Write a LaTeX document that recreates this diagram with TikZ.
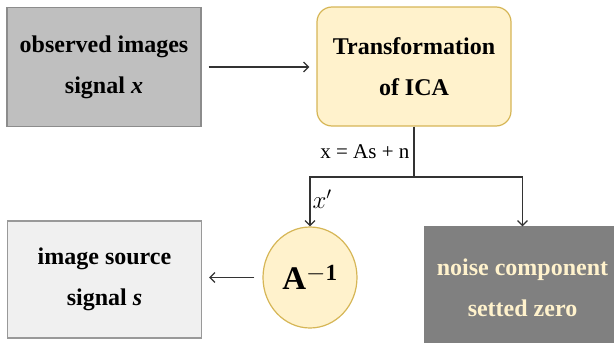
\documentclass[tikz,border=0pt]{standalone}
\usepackage{fontspec}
\setmainfont{Liberation Serif}
\usepackage{xcolor}
\definecolor{obsgray}{HTML}{BFBFBF}
\definecolor{obsline}{HTML}{8C8C8C}
\definecolor{icafill}{HTML}{FFF2CC}
\definecolor{icaline}{HTML}{D6B656}
\definecolor{srcfill}{HTML}{F0F0F0}
\definecolor{srcline}{HTML}{999999}
\definecolor{noisegray}{HTML}{808080}
\definecolor{wire}{HTML}{333333}
\usepackage{tikz}
\usetikzlibrary{positioning,arrows.meta,shapes.geometric}

\tikzset{
  >={Straight Barb[length=5pt,width=10pt]},
  blockbox/.style={rectangle, draw, line width=1.2pt, inner sep=0pt, align=center,
    minimum width=194pt, minimum height=119pt,
    font=\fontsize{24}{41}\selectfont\bfseries},
  inversebox/.style={shape=ellipse, draw=icaline, fill=icafill, line width=1.2pt,
    minimum width=94pt, minimum height=101pt, inner sep=0pt,
    font=\fontsize{33}{33}\selectfont},
  wireline/.style={draw=wire, line width=1.2pt}
}

\begin{document}
\begin{tikzpicture}[x=1pt,y=-1pt]
\useasboundingbox (0,0) rectangle (614,343);
\clip (0,0) rectangle (614,343);

\node[blockbox, fill=obsgray, draw=obsline] (obs) at (104,67) {observed images\\signal \textit{x}};
\node[blockbox, fill=icafill, draw=icaline, rounded corners=15pt] (ica) at (414,66.5) {Transformation\\of ICA};
\node[blockbox, fill=srcfill, draw=srcline, minimum height=117pt] (src) at (104.5,279.5) {image source\\signal \textit{s}};
\node[inversebox] (ainv) at (310,277.5) {$\mathbf{A}^{\mathbf{-1}}$};
\node[blockbox, fill=noisegray, draw=noisegray, text=icafill, minimum width=195pt, minimum height=122pt] (noise) at (522.5,288) {noise component\\setted zero};

\coordinate (split) at (414,177);

\draw[wireline, ->, shorten <=7pt, shorten >=7pt] (obs) -- (obs -| ica.west);
\draw[wireline] (ica.south) -- node[left, font=\fontsize{21}{21}\selectfont, inner sep=4pt] {x = As + n} (split);
\draw[wireline, ->] (split) -| node[pos=0.72, right, font=\fontsize{23}{23}\selectfont, inner sep=2pt] {$x'$} (ainv.north);
\draw[wireline, ->] (split) -| (noise.north);
\draw[wireline, ->, shorten <=8pt, shorten >=7pt] (ainv.west) -- (ainv.west -| src.east);

\end{tikzpicture}
\end{document}
